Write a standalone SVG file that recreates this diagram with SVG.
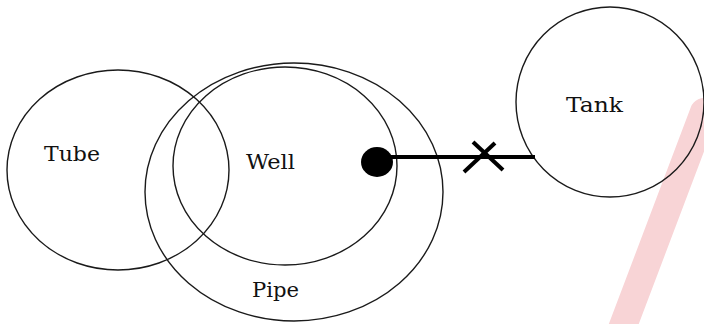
<svg xmlns="http://www.w3.org/2000/svg" width="704" height="324" viewBox="0 0 704 324">
<style>
.c{fill:none;stroke:#1a1a1a;stroke-width:1.4}
.t{font-family:"DejaVu Serif","Liberation Serif",serif;font-size:21px;fill:#111}
.w{stroke:#000;stroke-width:4;fill:none}
</style>
<rect width="704" height="324" fill="#fff"/>
<line x1="620" y1="334" x2="704" y2="112" stroke="#f8d4d6" stroke-width="28" stroke-linecap="round"/>
<g id="tube"><ellipse class="c" cx="118" cy="170" rx="111" ry="100"/><text class="t" x="44" y="161" textLength="56" lengthAdjust="spacingAndGlyphs">Tube</text></g>
<g id="pipe"><ellipse class="c" cx="294" cy="192" rx="149" ry="129"/><text class="t" x="252" y="297" textLength="47" lengthAdjust="spacingAndGlyphs">Pipe</text></g>
<g id="well"><ellipse class="c" cx="285" cy="166" rx="112" ry="99"/><text class="t" x="246" y="169" textLength="49" lengthAdjust="spacingAndGlyphs">Well</text></g>
<g id="tank"><ellipse class="c" cx="610" cy="102" rx="94" ry="95"/><text class="t" x="566" y="112" textLength="57" lengthAdjust="spacingAndGlyphs">Tank</text></g>
<g id="connectors">
<ellipse cx="377" cy="162" rx="16" ry="15" fill="#000"/>
<line class="w" x1="390" y1="157" x2="535" y2="157"/>
<line class="w" x1="473" y1="142" x2="503" y2="170"/>
<line class="w" x1="495" y1="143" x2="464" y2="172"/>
</g>
</svg>
